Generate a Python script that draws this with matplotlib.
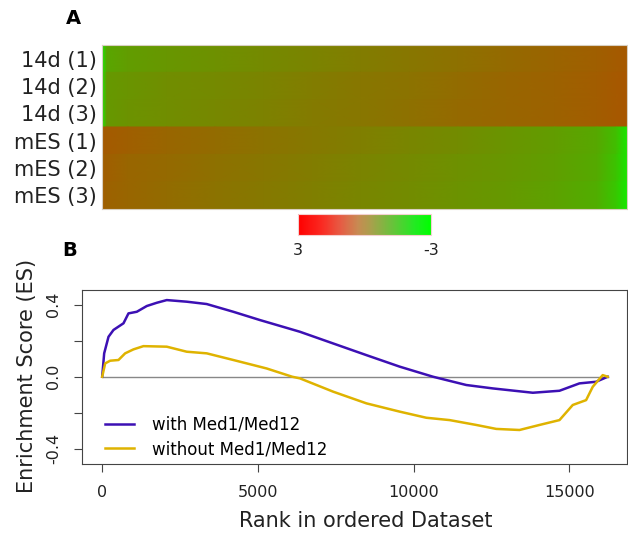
import numpy as np
import matplotlib
matplotlib.use("Agg")
import matplotlib.pyplot as plt
from matplotlib.colors import LinearSegmentedColormap, Normalize
from matplotlib.cm import ScalarMappable

# panel A: expression heatmap (rows = samples, columns = genes in rank order)
row_labels = ["14d (1)", "14d (2)", "14d (3)", "mES (1)", "mES (2)", "mES (3)"]
heat_rank = [0, 150, 800, 2000, 3500, 5000, 6500, 8000, 9500, 11000, 12500, 14000, 15300, 15900, 16229]
d14_1 = [-2.4, -0.9, -0.7, -0.55, -0.4, -0.25, -0.1, 0.05, 0.2, 0.35, 0.5, 0.65, 0.75, 0.85, 0.9]
d14_2 = [-2.3, -0.6, -0.5, -0.35, -0.25, -0.1, 0.05, 0.2, 0.3, 0.45, 0.6, 0.7, 0.8, 0.9, 0.95]
d14_3 = [-2.3, -0.6, -0.45, -0.35, -0.2, -0.05, 0.1, 0.2, 0.35, 0.5, 0.6, 0.7, 0.8, 0.9, 0.95]
mes_1 = [0.9, 0.85, 0.75, 0.6, 0.45, 0.3, 0.15, 0.0, -0.15, -0.3, -0.5, -0.7, -0.95, -1.5, -2.4]
mes_2 = [0.8, 0.75, 0.6, 0.5, 0.35, 0.2, 0.05, -0.1, -0.25, -0.4, -0.55, -0.75, -1.0, -1.6, -2.4]
mes_3 = [0.8, 0.7, 0.6, 0.45, 0.3, 0.15, 0.0, -0.15, -0.3, -0.45, -0.6, -0.8, -1.1, -1.7, -2.5]
heat_rows = [d14_1, d14_2, d14_3, mes_1, mes_2, mes_3]
cbar_ticks = [3, -3]

# panel B: running enrichment score
with_rank = [0, 64, 203, 363, 684, 844, 1111, 1432, 1752, 2073, 2714, 3355, 4209, 5064,
             6346, 7414, 8483, 9551, 10620, 11688, 12543, 13825, 14680, 15321, 15855, 16229]
with_es = [0, 0.13, 0.222, 0.26, 0.297, 0.352, 0.361, 0.393, 0.411, 0.426, 0.417, 0.404, 0.361, 0.315,
           0.25, 0.185, 0.12, 0.056, 0.0, -0.046, -0.065, -0.089, -0.078, -0.037, -0.028, 0.0]
without_rank = [0, 96, 256, 523, 737, 1004, 1324, 2073, 2714, 3355, 4209, 5278, 6100, 6346, 7414,
                8483, 9551, 10406, 11154, 12009, 12650, 13397, 14039, 14680, 15107, 15535, 15748, 16068, 16229]
without_es = [0, 0.074, 0.089, 0.093, 0.13, 0.152, 0.17, 0.167, 0.139, 0.13, 0.093, 0.046, 0.0, -0.009, -0.083,
              -0.148, -0.194, -0.228, -0.241, -0.268, -0.29, -0.296, -0.268, -0.241, -0.157, -0.13, -0.056, 0.009, 0.0]
x_ticks = [0, 5000, 10000, 15000]
y_ticks = [-0.4, -0.2, 0.0, 0.2, 0.4]
y_ticklabels = ["-0.4", "", "0.0", "", "0.4"]

W, H = 628, 534
fig = plt.figure(figsize=(W / 100, H / 100), dpi=100)

def box(x0, y0, x1, y1):
    # pixel box (top-left origin) -> figure fraction
    return [x0 / W, (H - y1) / H, (x1 - x0) / W, (y1 - y0) / H]

heat_cmap = LinearSegmentedColormap.from_list("rg", [(0, 1, 0), (1, 0, 0)])
bar_cmap = LinearSegmentedColormap.from_list(
    "rg_bar", [(0.0, "#00ff00"), (0.12, "#22ea22"), (0.3, "#6cc03c"), (0.45, "#a8a04c"),
               (0.55, "#c88a52"), (0.68, "#e65c44"), (0.82, "#fa2a22"), (1.0, "#ff0000")])
norm = Normalize(-3, 3)

# ---- A ----
axa = fig.add_axes(box(102, 45, 627, 209))
xs = np.array(heat_rank, dtype=float)
for i, vals in enumerate(heat_rows):
    X, Y = np.meshgrid(xs, [i, i + 1])
    C = np.vstack([vals, vals])
    axa.pcolormesh(X, Y, C, shading="gouraud", cmap=heat_cmap, norm=norm)
axa.set_xlim(xs[0], xs[-1])
axa.set_ylim(len(heat_rows), 0)
axa.set_xticks([])
axa.set_yticks(np.arange(len(row_labels)) + 0.5)
axa.set_yticklabels(row_labels, fontsize=15, color="#222222")
axa.tick_params(axis="y", length=0, pad=4)
for s in axa.spines.values():
    s.set_color("#d8cfc0")
    s.set_linewidth(0.8)
fig.text(73 / W, 1 - 19 / H, "A", fontsize=14, fontweight="bold", ha="center", va="center")

# colour key
cax = fig.add_axes(box(298, 214, 431, 235))
cb = fig.colorbar(ScalarMappable(norm=norm, cmap=bar_cmap), cax=cax, orientation="horizontal")
cax.invert_xaxis()
cb.set_ticks(cbar_ticks)
cb.set_ticklabels([str(t) for t in cbar_ticks])
cax.tick_params(length=0, pad=6, labelsize=11.5, colors="#222222")
cb.outline.set_edgecolor("#f4d0d0")
cb.outline.set_linewidth(0.8)

# ---- B ----
axb = fig.add_axes(box(82, 290, 627, 464))
axb.plot([with_rank[0], with_rank[-1]], [0, 0], color="#888888", lw=1.0)
axb.plot(with_rank, with_es, color="#3c10b4", lw=1.8, label="with Med1/Med12")
axb.plot(without_rank, without_es, color="#dfb300", lw=1.8, label="without Med1/Med12")
axb.set_xlim(-648, 16848)
axb.set_ylim(-0.485, 0.482)
axb.set_xticks(x_ticks)
axb.set_xticklabels([str(t) for t in x_ticks])
axb.set_yticks(y_ticks)
axb.set_yticklabels(y_ticklabels)
axb.tick_params(axis="both", length=6, width=0.8, color="#444444", labelsize=11.5, labelcolor="#222222")
axb.tick_params(axis="x", pad=9)
axb.tick_params(axis="y", pad=9)
for lab in axb.get_yticklabels():
    lab.set_rotation(90)
    lab.set_va("center")
for s in axb.spines.values():
    s.set_color("#444444")
    s.set_linewidth(0.8)
axb.legend(loc="lower left", bbox_to_anchor=(0.015, -0.052), frameon=False, fontsize=12,
           handlelength=1.7, handletextpad=1.1, labelspacing=0.4)
fig.text(366 / W, 1 - 521 / H, "Rank in ordered Dataset", fontsize=15, ha="center", va="center", color="#222222")
fig.text(27 / W, 1 - 376 / H, "Enrichment Score (ES)", fontsize=15, rotation=90, ha="center", va="center", color="#222222")
fig.text(70 / W, 1 - 251 / H, "B", fontsize=14, fontweight="bold", ha="center", va="center")

fig.savefig("out.png", dpi=100)
